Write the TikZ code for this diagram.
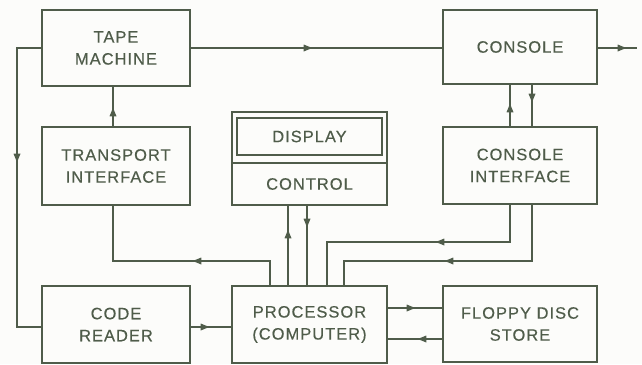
\documentclass[tikz,border=0pt]{standalone}
\usepackage{fontspec}
\setmainfont{Liberation Sans}[LetterSpace=6,FakeBold=0.3]
\usetikzlibrary{decorations.markings}
\definecolor{ink}{HTML}{4F5C4A}
\definecolor{paper}{HTML}{FCFCFA}
\tikzset{
  line/.style={draw=ink,line width=1.4pt},
  box/.style={draw=ink,line width=1.4pt,inner sep=0pt,align=center,text=ink,
    font=\fontsize{16.5}{22}\selectfont},
  lbl/.style={inner sep=0pt,align=center,text=ink,font=\fontsize{16.5}{22}\selectfont},
  midarr/.style={postaction={decorate},decoration={markings,
    mark=at position #1 with {\fill[ink] (1.5pt,0pt) -- (-7pt,3.5pt) -- (-7pt,-3.5pt) -- cycle;}}}
}
\begin{document}
\begin{tikzpicture}[x=1pt,y=-1pt]
\fill[paper] (0,0) rectangle (642,364);
\useasboundingbox (0,0) rectangle (642,364);
% boxes
\node[box,minimum width=148pt,minimum height=76pt] (tape) at (116,48) {TAPE\\MACHINE};
\node[box,minimum width=148pt,minimum height=78pt] (transport) at (116,166) {TRANSPORT\\INTERFACE};
\node[box,minimum width=154pt,minimum height=74pt] (console) at (520,47) {CONSOLE};
\node[box,minimum width=154pt,minimum height=77pt] (consint) at (520,165.5) {CONSOLE\\INTERFACE};
\node[box,minimum width=155pt,minimum height=93pt] (ctrl) at (309.5,158.5) {};
\node[box,minimum width=145pt,minimum height=37pt] (display) at (309.5,136.5) {DISPLAY};
\node[lbl] (ctrltext) at (309.5,184) {CONTROL};
\draw[line] (ctrl.west |- 0,163) -- (ctrl.east |- 0,163);
\node[box,minimum width=148pt,minimum height=77pt] (code) at (116,324.5) {CODE\\READER};
\node[box,minimum width=155pt,minimum height=77pt] (proc) at (309.5,324.5) {PROCESSOR\\(COMPUTER)};
\node[box,minimum width=154pt,minimum height=76pt] (floppy) at (520,324) {FLOPPY DISC\\STORE};
\coordinate (out) at (637,48);
% connectors
\draw[line,midarr=120pt] (tape.east) -- (console.west |- tape.east);
\draw[line,midarr=27pt] (console.east |- tape.east) -- (out);
\draw[line,midarr=17pt] (113,0 |- transport.north) -- (113,0 |- tape.south);
\draw[line,midarr=137pt] (tape.west) -- (17,48) -- (17,327) -- (code.west |- 0,327);
\draw[line,midarr=21pt] (510,0 |- consint.north) -- (510,0 |- console.south);
\draw[line,midarr=16pt] (532,0 |- console.south) -- (532,0 |- consint.north);
\draw[line,midarr=100pt] (270,0 |- proc.north) -- (270,261) -- (113,261) -- (113,0 |- transport.south);
\draw[line,midarr=54pt] (288,0 |- proc.north) -- (288,0 |- ctrl.south);
\draw[line,midarr=20pt] (307,0 |- ctrl.south) -- (307,0 |- proc.north);
\draw[line,midarr=110pt] (510,0 |- consint.south) -- (510,242) -- (327,242) -- (327,0 |- proc.north);
\draw[line,midarr=142pt] (532,0 |- consint.south) -- (532,261) -- (344,261) -- (344,0 |- proc.north);
\draw[line,midarr=26pt] (proc.east |- 0,308) -- (floppy.west |- 0,308);
\draw[line,midarr=23pt] (floppy.west |- 0,339) -- (proc.east |- 0,339);
\draw[line,midarr=17pt] (code.east |- 0,327) -- (proc.west |- 0,327);
\end{tikzpicture}
\end{document}
